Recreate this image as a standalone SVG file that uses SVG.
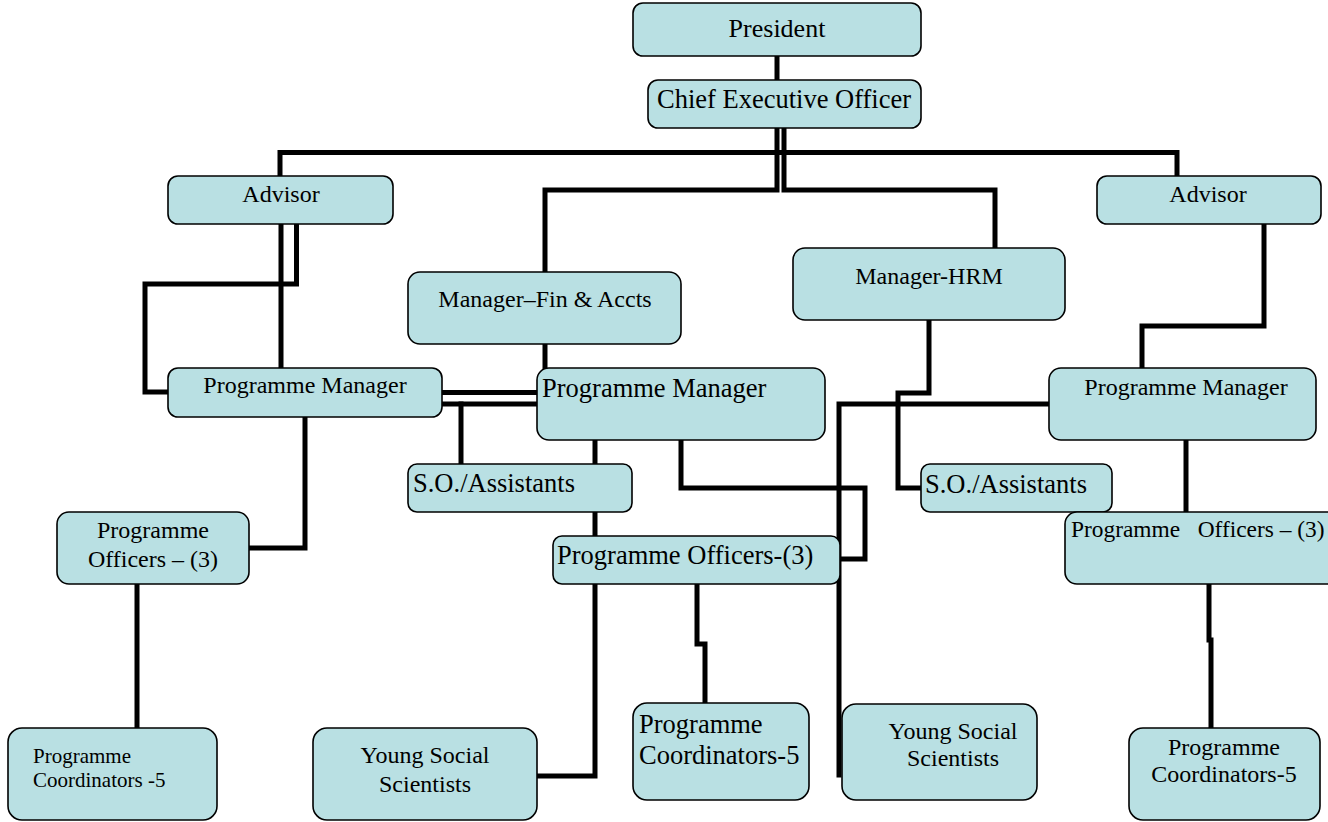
<svg xmlns="http://www.w3.org/2000/svg" width="1328" height="822" viewBox="0 0 1328 822">
<style>
.box{fill:#b9e0e3;stroke:#000;stroke-width:1.6}
.t{font-family:"Liberation Serif","Times New Roman",serif;fill:#000}
.c{text-anchor:middle}
.conn path{fill:none;stroke:#000;stroke-width:5;stroke-linejoin:miter;stroke-linecap:square}
</style>
<rect width="1328" height="822" fill="#fff"/>
<g id="connectors" class="conn">
<path d="M777 56V80"/>
<path d="M777 128V190H545V272"/>
<path d="M784 128V190H995V248"/>
<path d="M280 176V152.5H1177V176"/>
<path d="M281 224V368"/>
<path d="M296.5 224V284H145V392H168"/>
<path d="M442 392.5H537"/>
<path d="M442 404H537"/>
<path d="M461 404V464"/>
<path d="M545 344V368"/>
<path d="M595 440V464"/>
<path d="M595 512V536"/>
<path d="M681 440V488H865V559H840"/>
<path d="M929 320V393H898V488H921"/>
<path d="M1264 224V326H1142V368"/>
<path d="M1049 404H839V775"/>
<path d="M1186 440V512"/>
<path d="M1209 584V640H1211V728"/>
<path d="M305 417V548H249"/>
<path d="M137 584V728"/>
<path d="M595 584V776H537"/>
<path d="M697 584V644H705V703"/>
</g>
<g id="president"><rect class="box" x="633" y="3" width="288" height="53" rx="10"/><text class="t c" x="777" y="37" font-size="26">President</text></g>
<g id="ceo"><rect class="box" x="648" y="80" width="273" height="48" rx="10"/><text class="t c" x="784" y="108" font-size="26.5">Chief Executive Officer</text></g>
<g id="advisor-left"><rect class="box" x="168" y="176" width="225" height="48" rx="10"/><text class="t c" x="281" y="202" font-size="24">Advisor</text></g>
<g id="advisor-right"><rect class="box" x="1097" y="176" width="224" height="48" rx="10"/><text class="t c" x="1208" y="202" font-size="24">Advisor</text></g>
<g id="manager-fin"><rect class="box" x="408" y="272" width="273" height="72" rx="12"/><text class="t c" x="545" y="307" font-size="24">Manager–Fin &amp; Accts</text></g>
<g id="manager-hrm"><rect class="box" x="793" y="248" width="272" height="72" rx="12"/><text class="t c" x="929" y="284" font-size="24">Manager-HRM</text></g>
<g id="pm-left"><rect class="box" x="168" y="368" width="274" height="49" rx="10"/><text class="t c" x="305" y="393" font-size="24">Programme Manager</text></g>
<g id="pm-center"><rect class="box" x="537" y="368" width="288" height="72" rx="12"/><text class="t" x="542" y="397" font-size="26.5">Programme Manager</text></g>
<g id="pm-right"><rect class="box" x="1049" y="368" width="267" height="72" rx="12"/><text class="t c" x="1186" y="395" font-size="24">Programme Manager</text></g>
<g id="so-center"><rect class="box" x="408" y="464" width="224" height="48" rx="9"/><text class="t" x="413" y="492" font-size="26.5">S.O./Assistants</text></g>
<g id="so-right"><rect class="box" x="921" y="464" width="191" height="48" rx="9"/><text class="t" x="925" y="493" font-size="26.5">S.O./Assistants</text></g>
<g id="po-left"><rect class="box" x="57" y="512" width="192" height="72" rx="12"/><text class="t c" x="153" y="538" font-size="24">Programme</text><text class="t c" x="153" y="567" font-size="24">Officers – (3)</text></g>
<g id="po-center"><rect class="box" x="553" y="536" width="287" height="48" rx="9"/><text class="t" x="557" y="564" font-size="26.5">Programme Officers-(3)</text></g>
<g id="po-right"><rect class="box" x="1065" y="512" width="280" height="72" rx="12"/><text class="t" x="1071" y="537" font-size="23.4" xml:space="preserve" style="white-space:pre">Programme   Officers – (3)</text></g>
<g id="coord-left"><rect class="box" x="8" y="728" width="209" height="92" rx="14"/><text class="t" x="33" y="763" font-size="21">Programme</text><text class="t" x="33" y="787" font-size="21">Coordinators -5</text></g>
<g id="yss-left"><rect class="box" x="313" y="728" width="224" height="92" rx="14"/><text class="t c" x="425" y="763" font-size="24">Young Social</text><text class="t c" x="425" y="792" font-size="24">Scientists</text></g>
<g id="coord-center"><rect class="box" x="633" y="703" width="176" height="97" rx="14"/><text class="t" x="639" y="733" font-size="26.5">Programme</text><text class="t" x="639" y="764" font-size="26.5">Coordinators-5</text></g>
<g id="yss-right"><rect class="box" x="842" y="704" width="195" height="96" rx="14"/><text class="t c" x="953" y="739" font-size="24">Young Social</text><text class="t c" x="953" y="766" font-size="24">Scientists</text></g>
<g id="coord-right"><rect class="box" x="1129" y="728" width="191" height="92" rx="14"/><text class="t c" x="1224" y="755" font-size="24">Programme</text><text class="t c" x="1224" y="782" font-size="24">Coordinators-5</text></g>
</svg>
